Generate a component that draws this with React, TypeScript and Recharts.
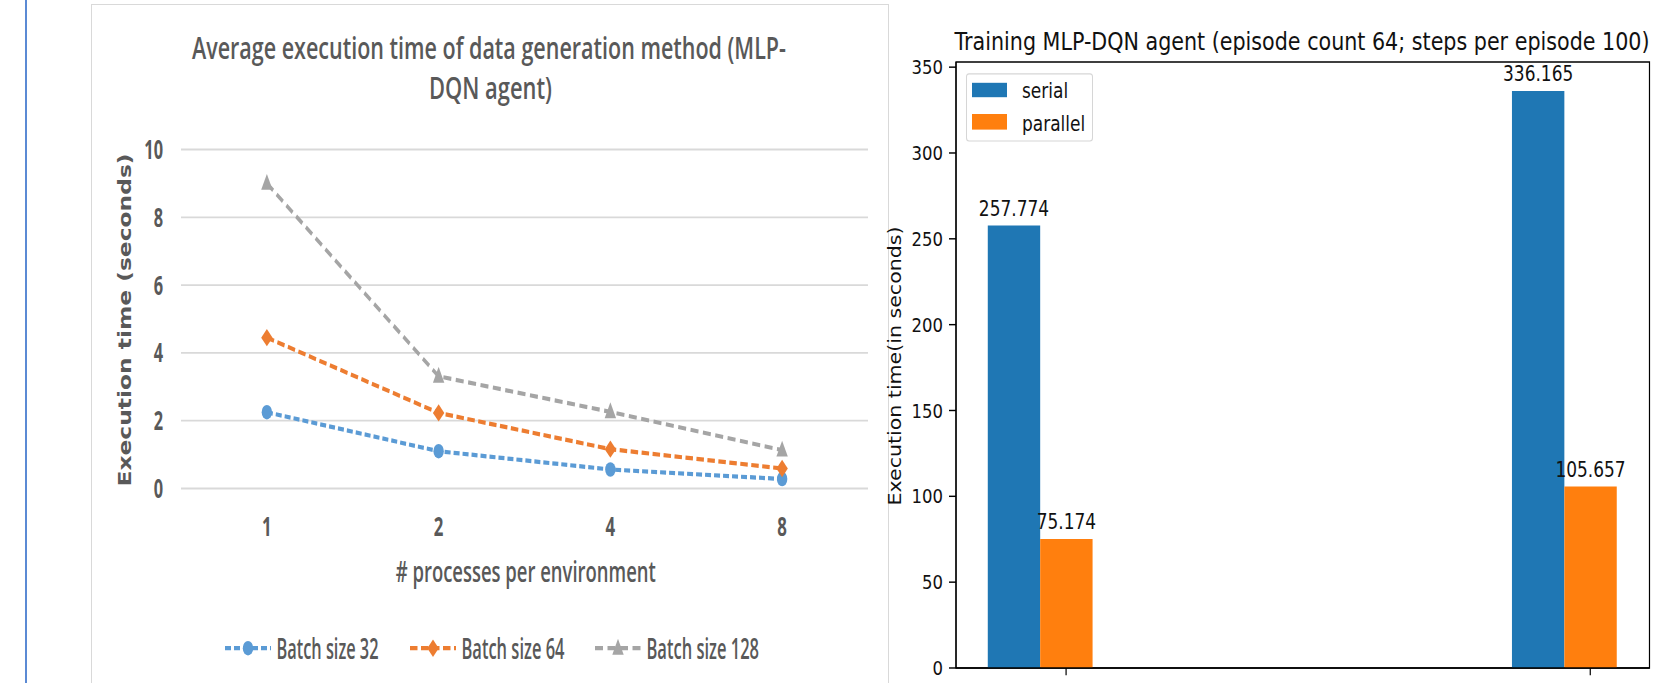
import React from 'react';
import {
  LineChart, Line, XAxis, YAxis, CartesianGrid, Legend,
  BarChart, Bar, LabelList, ReferenceArea,
} from 'recharts';

// ---------- data: left chart ----------
const processCounts = ['1', '2', '4', '8'];
const batch32 = [2.25, 1.1, 0.56, 0.28];
const batch64 = [4.45, 2.23, 1.16, 0.59];
const batch128 = [9.0, 3.31, 2.26, 1.13];
const lineTicks = [0, 2, 4, 6, 8, 10];

// ---------- data: right chart ----------
const runPositions = [0, 1];
const serialTimes = [257.774, 336.165];
const parallelTimes = [75.174, 105.657];
const barTicks = [0, 50, 100, 150, 200, 250, 300, 350];

const lineData = processCounts.map((p, i) => ({
  p, b32: batch32[i], b64: batch64[i], b128: batch128[i],
}));
const barData = runPositions.map((pos, i) => ({
  pos, serial: serialTimes[i], parallel: parallelTimes[i],
}));

// ---------- styles ----------
const BLUE = '#5B9BD5';
const ORANGE = '#ED7D31';
const GRAY = '#A5A5A5';
const TXT = '#595959';
const OPEN = "'Open Sans', 'Liberation Sans', sans-serif";
const DJV = "'DejaVu Sans', sans-serif";
const TWT = 600; // titles / legend weight
const KWT = 700; // tick weight

const SL = 1.4; // vertical stretch of the left picture
const SR = 1.2; // vertical stretch of the right picture

const LW = 900;
const LH = 683 / SL;
const RW = 788;
const RH = 683 / SR;

const CircleMarker = (p: any) => (
  <circle key={`c${p.index}`} cx={p.cx} cy={p.cy} r={5.2} fill={BLUE} />
);
const DiamondMarker = (p: any) => (
  <polygon
    key={`d${p.index}`}
    points={`${p.cx},${p.cy - 6.2} ${p.cx + 5.7},${p.cy} ${p.cx},${p.cy + 6.2} ${p.cx - 5.7},${p.cy}`}
    fill={ORANGE}
  />
);
const TriangleMarker = (p: any) => (
  <polygon
    key={`t${p.index}`}
    points={`${p.cx},${p.cy - 6.8} ${p.cx + 5.7},${p.cy + 4.6} ${p.cx - 5.7},${p.cy + 4.6}`}
    fill={GRAY}
  />
);

const legendSpec: Record<string, { color: string; dash: string; marker: any }> = {
  b32: { color: BLUE, dash: '6 3', marker: CircleMarker },
  b64: { color: ORANGE, dash: '7.5 3.5', marker: DiamondMarker },
  b128: { color: GRAY, dash: '8 4.5', marker: TriangleMarker },
};
const leftLegendOrder = ['b32', 'b64', 'b128'];
const legendX = [225, 410, 595];
const legendTextW = [102, 103, 112.5];

const LeftYTick = (p: any) => {
  const s = String(p.payload.value);
  return (
    <text
      x={p.x} y={p.y} dy="0.355em" textAnchor="end" fill={TXT} fontFamily={OPEN}
      fontWeight={KWT} fontSize={19} textLength={s.length * 9.35} lengthAdjust="spacingAndGlyphs"
    >
      {s}
    </text>
  );
};
const LeftXTick = (p: any) => {
  const s = String(p.payload.value);
  return (
    <text
      x={p.x} y={p.y} dy="0.71em" textAnchor="middle" fill={TXT} fontFamily={OPEN}
      fontWeight={KWT} fontSize={19} textLength={s.length * 9.6} lengthAdjust="spacingAndGlyphs"
    >
      {s}
    </text>
  );
};

const renderLeftLegend = (props: any) => {
  const payload: any[] = props.payload || [];
  return (
    <svg width={LW} height={30} style={{ display: 'block' }}>
      {leftLegendOrder.map((key, i) => {
        const entry = payload.find((e: any) => e.dataKey === key);
        if (!entry) return null;
        const spec = legendSpec[key];
        const x0 = legendX[i];
        const M = spec.marker;
        return (
          <g key={key}>
            <line x1={x0} x2={x0 + 46} y1={15} y2={15} stroke={spec.color} strokeWidth={3} strokeDasharray={spec.dash} />
            <M cx={x0 + 23} cy={15} index={i} />
            <text
              x={x0 + 51.5}
              y={15}
              dy="0.36em"
              fill={TXT}
              fontFamily={OPEN}
              fontWeight={TWT}
              fontSize={20.5}
              textLength={legendTextW[i]}
              lengthAdjust="spacingAndGlyphs"
            >
              {entry.value}
            </text>
          </g>
        );
      })}
    </svg>
  );
};

const rightLegendOrder = ['serial', 'parallel'];
const renderRightLegend = (props: any) => {
  const payload: any[] = props.payload || [];
  const rows = [
    { patchTop: 8.3, patchH: 11.7, textC: 14.4 },
    { patchTop: 34.8, patchH: 12.3, textC: 41.1 },
  ];
  return (
    <div
      style={{
        position: 'relative', width: 127, height: 57.3, boxSizing: 'border-box',
        border: '1px solid #d6d6d6', borderRadius: 3, background: 'rgba(255,255,255,0.8)',
      }}
    >
      {rightLegendOrder.map((key, i) => {
        const entry = payload.find((e: any) => e.dataKey === key);
        if (!entry) return null;
        return (
          <React.Fragment key={key}>
            <div
              style={{
                position: 'absolute', left: 4.5, top: rows[i].patchTop - 1, width: 35,
                height: rows[i].patchH, background: entry.color,
              }}
            />
            <div
              style={{
                position: 'absolute', left: 55, top: rows[i].textC - 11, height: 22,
                lineHeight: '22px', fontFamily: DJV, fontSize: 17, color: '#111', whiteSpace: 'nowrap',
              }}
            >
              {entry.value}
            </div>
          </React.Fragment>
        );
      })}
    </div>
  );
};

function LeftChart() {
  const top = 149.5 / SL;
  const bottom = 488.5 / SL;
  const band = (868 - 181) / processCounts.length;
  return (
    <div
      style={{
        position: 'absolute', left: 0, top: 0, width: LW, height: LH,
        transform: `scaleY(${SL})`, transformOrigin: '0 0',
      }}
    >
      <LineChart
        width={LW}
        height={LH}
        data={lineData}
        margin={{ top, left: 141, right: 32, bottom: LH - bottom - 30 }}
      >
        <CartesianGrid vertical={false} stroke="#d9d9d9" strokeWidth={1.3} />
        <XAxis
          dataKey="p"
          axisLine={false}
          tickLine={false}
          height={30}
          padding={{ left: band / 2, right: band / 2 }}
          tickMargin={14.6}
          tick={LeftXTick}
        />
        <YAxis
          type="number"
          domain={[0, 10]}
          ticks={lineTicks}
          width={40}
          axisLine={false}
          tickLine={false}
          tickMargin={12}
          tick={LeftYTick}
        />
        <Line
          dataKey="b32" name="Batch size 32" stroke={BLUE} strokeWidth={3}
          strokeDasharray={legendSpec.b32.dash} dot={CircleMarker} activeDot={false}
          isAnimationActive={false}
        />
        <Line
          dataKey="b64" name="Batch size 64" stroke={ORANGE} strokeWidth={3}
          strokeDasharray={legendSpec.b64.dash} dot={DiamondMarker} activeDot={false}
          isAnimationActive={false}
        />
        <Line
          dataKey="b128" name="Batch size 128" stroke={GRAY} strokeWidth={3}
          strokeDasharray={legendSpec.b128.dash} dot={TriangleMarker} activeDot={false}
          isAnimationActive={false}
        />
        <Legend
          layout="horizontal"
          verticalAlign="middle"
          align="center"
          content={renderLeftLegend}
          wrapperStyle={{ left: 0, top: 648 / SL - 15, width: LW, height: 30 }}
        />
      </LineChart>
      <svg
        width={LW}
        height={LH}
        style={{ position: 'absolute', left: 0, top: 0, pointerEvents: 'none' }}
      >
        <text
          textAnchor="middle" fill={TXT} fontFamily={OPEN} fontWeight={TWT} fontSize={21.5}
          lengthAdjust="spacingAndGlyphs"
        >
          <tspan x={489} y={59.5 / SL} textLength={594} lengthAdjust="spacingAndGlyphs">
            Average execution time of data generation method (MLP-
          </tspan>
          <tspan x={490.5} y={99.5 / SL} textLength={123} lengthAdjust="spacingAndGlyphs">
            DQN agent)
          </tspan>
        </text>
        <text
          x={0} y={0} textAnchor="middle" dominantBaseline="central" fill={TXT}
          fontFamily={DJV} fontWeight={700} fontSize={17}
          textLength={333 / SL} lengthAdjust="spacingAndGlyphs"
          transform={`translate(125.5, ${320 / SL}) rotate(-90)`}
        >
          Execution time (seconds)
        </text>
        <text
          x={525.8} y={582 / SL} textAnchor="middle" fill={TXT} fontFamily={OPEN}
          fontWeight={TWT} fontSize={20} textLength={260} lengthAdjust="spacingAndGlyphs"
        >
          # processes per environment
        </text>
      </svg>
    </div>
  );
}

function RightChart() {
  const plotLeft = 956 - 880;
  const plotRight = 1649.5 - 880;
  const top = 62 / SR;
  const bottom = 668 / SR;
  const xDomain: [number, number] = [-0.16, 1.163];
  const yDomain: [number, number] = [0, 353];
  return (
    <div
      style={{
        position: 'absolute', left: 880, top: 0, width: RW, height: RH,
        transform: `scaleY(${SR})`, transformOrigin: '0 0',
      }}
    >
      <BarChart
        width={RW}
        height={RH}
        data={barData}
        barGap={0}
        margin={{ top, left: plotLeft - 60, right: RW - plotRight, bottom: RH - bottom - 12 }}
      >
        <XAxis
          type="number"
          dataKey="pos"
          domain={xDomain}
          ticks={[0.05, 1.05]}
          allowDataOverflow
          height={12}
          tickSize={6}
          axisLine={{ stroke: '#000', strokeWidth: 1.2 }}
          tickLine={{ stroke: '#000', strokeWidth: 1.2 }}
          tickFormatter={() => ''}
        />
        <YAxis
          type="number"
          domain={yDomain}
          ticks={barTicks}
          allowDataOverflow
          width={60}
          tickSize={7}
          tickMargin={6}
          axisLine={{ stroke: '#000', strokeWidth: 1.2 }}
          tickLine={{ stroke: '#000', strokeWidth: 1.2 }}
          tick={{ fill: '#111', fontSize: 16.5, fontFamily: DJV }}
        />
        <Bar dataKey="serial" name="serial" fill="#1f77b4" barSize={52.4} isAnimationActive={false}>
          <LabelList dataKey="serial" position="top" offset={8} fill="#111" fontSize={17} fontFamily={DJV} />
        </Bar>
        <Bar dataKey="parallel" name="parallel" fill="#ff7f0e" barSize={52.4} isAnimationActive={false}>
          <LabelList dataKey="parallel" position="top" offset={8} fill="#111" fontSize={17} fontFamily={DJV} />
        </Bar>
        <ReferenceArea
          x1={xDomain[0]} x2={xDomain[1]} y1={yDomain[0]} y2={yDomain[1]}
          fill="none" fillOpacity={0} stroke="#000" strokeWidth={1.2} strokeOpacity={1}
          ifOverflow="visible"
        />
        <Legend
          layout="horizontal"
          verticalAlign="middle"
          align="center"
          content={renderRightLegend}
          wrapperStyle={{ left: 86, top: 72.7 / SR, width: 127, height: 57.3 }}
        />
      </BarChart>
      <svg
        width={RW}
        height={RH}
        style={{ position: 'absolute', left: 0, top: 0, pointerEvents: 'none' }}
      >
        <text
          x={422} y={50 / SR} textAnchor="middle" fill="#111" fontFamily={DJV} fontSize={20.5}
          textLength={695} lengthAdjust="spacingAndGlyphs"
        >
          Training MLP-DQN agent (episode count 64; steps per episode 100)
        </text>
        <text
          x={0} y={0} textAnchor="middle" dominantBaseline="central" fill="#111"
          fontFamily={DJV} fontSize={17} textLength={279 / SR} lengthAdjust="spacingAndGlyphs"
          transform={`translate(15, ${366 / SR}) rotate(-90)`}
        >
          Execution time(in seconds)
        </text>
      </svg>
    </div>
  );
}

export default function App() {
  return (
    <div
      style={{
        position: 'absolute', left: 0, top: 0, width: 1668, height: 683,
        overflow: 'hidden', background: '#fff',
      }}
    >
      <div style={{ position: 'absolute', left: 25, top: 0, width: 2, height: 683, background: '#5b8ad4' }} />
      <div
        style={{
          position: 'absolute', left: 90.5, top: 4, width: 798, height: 700,
          border: '1px solid #d9d9d9', boxSizing: 'border-box',
        }}
      />
      <LeftChart />
      <RightChart />
    </div>
  );
}
